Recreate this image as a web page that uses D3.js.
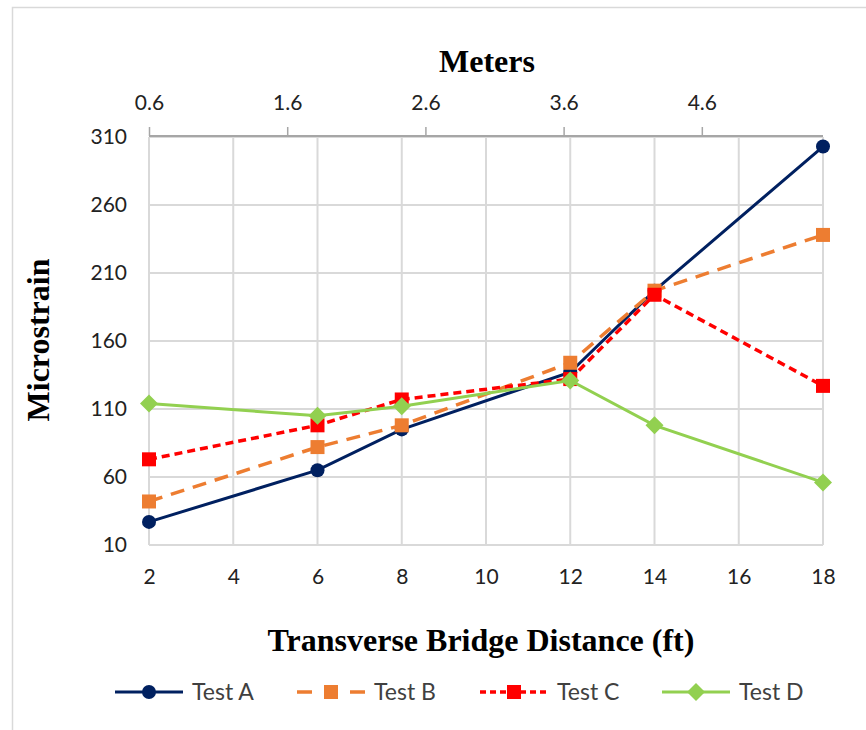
<!DOCTYPE html>
<html>
<head>
<meta charset="utf-8">
<script src="https://cdn.jsdelivr.net/npm/d3@7"></script>
<style>
  html, body { margin: 0; padding: 0; background: #fff; }
  svg { display: block; }
</style>
</head>
<body>
<svg id="chart" width="866" height="730"></svg>
<script>
// Transverse positions (ft) and measured microstrain for each test
const positions = [2, 6, 8, 12, 14, 18];
const testA = [27, 65, 95, 137, 197, 303];
const testB = [42, 82, 98, 144, 197, 238];
const testC = [73, 98, 117, 132, 194, 127];
const testD = [114, 105, 112, 131, 98, 56];

const seriesNames = ["Test A", "Test B", "Test C", "Test D"];
const xTicks = [2, 4, 6, 8, 10, 12, 14, 16, 18];
const yTicks = [10, 60, 110, 160, 210, 260, 310];
const meterTicks = [0.6, 1.6, 2.6, 3.6, 4.6];

const FT_PER_M = 3.28084;
const svg = d3.select("#chart");
const W = 866, H = 730;
const m = { left: 149, right: 823, top: 137, bottom: 545 };

// outer frame
svg.append("rect")
  .attr("x", 12.5).attr("y", 7.5)
  .attr("width", W + 10).attr("height", H + 10)
  .attr("fill", "#fff").attr("stroke", "#d9d9d9").attr("stroke-width", 1.5);

const x = d3.scaleLinear().domain([2, 18]).range([m.left, m.right]);
const y = d3.scaleLinear().domain([10, 310]).range([m.bottom, m.top]);
const xm = d3.scaleLinear().domain([0.6, 0.6 + 16 / FT_PER_M]).range([m.left, m.right]);

const tickFont = "Lato, 'Open Sans', 'Liberation Sans', sans-serif";
const serif = "'Liberation Serif', 'DejaVu Serif', serif";

// gridlines
const grid = svg.append("g");
grid.selectAll("line.v").data(xTicks).join("line")
  .attr("x1", d => x(d)).attr("x2", d => x(d))
  .attr("y1", m.top).attr("y2", m.bottom)
  .attr("stroke", "#d9d9d9").attr("stroke-width", 2);
grid.selectAll("line.h").data(yTicks).join("line")
  .attr("x1", m.left).attr("x2", m.right)
  .attr("y1", d => y(d)).attr("y2", d => y(d))
  .attr("stroke", "#d9d9d9").attr("stroke-width", 2);

// bottom axis (labels only)
const xAxis = svg.append("g")
  .attr("transform", `translate(0,${m.bottom})`)
  .call(d3.axisBottom(x).tickValues(xTicks).tickSize(0).tickPadding(24));
xAxis.select(".domain").remove();
xAxis.selectAll("text").attr("font-family", tickFont).attr("font-size", 21).attr("fill", "#222");

// left axis (labels only)
const yAxis = svg.append("g")
  .attr("transform", `translate(${m.left},0)`)
  .call(d3.axisLeft(y).tickValues(yTicks).tickSize(0).tickPadding(22));
yAxis.select(".domain").remove();
yAxis.selectAll("text").attr("font-family", tickFont).attr("font-size", 21).attr("fill", "#222");

// top axis in meters
const topAxis = svg.append("g")
  .attr("transform", `translate(0,${m.top - 1})`)
  .call(d3.axisTop(xm).tickValues(meterTicks).tickFormat(d3.format(".1f")).tickSize(9).tickSizeOuter(0).tickPadding(17));
topAxis.select(".domain").attr("stroke", "#a6a6a6").attr("stroke-width", 2)
  .attr("d", `M${m.left},0H${m.right}`);
topAxis.selectAll(".tick line").attr("stroke", "#a6a6a6").attr("stroke-width", 1.5);
topAxis.selectAll("text").attr("font-family", tickFont).attr("font-size", 21).attr("fill", "#222");

// titles
svg.append("text").attr("x", 487).attr("y", 72).attr("text-anchor", "middle")
  .attr("font-family", serif).attr("font-weight", "bold").attr("font-size", 32)
  .text("Meters");
svg.append("text").attr("x", 481).attr("y", 651).attr("text-anchor", "middle")
  .attr("font-family", serif).attr("font-weight", "bold").attr("font-size", 32)
  .text("Transverse Bridge Distance (ft)");
svg.append("text")
  .attr("transform", `translate(49,${(m.top + m.bottom) / 2 - 1}) rotate(-90)`)
  .attr("text-anchor", "middle")
  .attr("font-family", serif).attr("font-weight", "bold").attr("font-size", 32)
  .text("Microstrain");

// series styling
const styles = [
  { values: testA, color: "#002060", dash: null, legendDash: null, width: 3, marker: "circle" },
  { values: testB, color: "#ed7d31", dash: "14,9", legendDash: "15,38,15", width: 3.5, marker: "square" },
  { values: testC, color: "#ff0000", dash: "8,5", legendDash: "6,4", width: 3.5, marker: "square" },
  { values: testD, color: "#92d050", dash: null, legendDash: null, width: 3, marker: "diamond" }
];

function drawMarker(g, kind, cx, cy, color, scale = 1) {
  if (kind === "circle") {
    g.append("circle").attr("cx", cx).attr("cy", cy).attr("r", 7 * scale).attr("fill", color);
  } else if (kind === "square") {
    const s = 14 * scale;
    g.append("rect").attr("x", cx - s / 2).attr("y", cy - s / 2).attr("width", s).attr("height", s).attr("fill", color);
  } else {
    const r = 9 * scale;
    g.append("path").attr("d", `M${cx},${cy - r}L${cx + r},${cy}L${cx},${cy + r}L${cx - r},${cy}Z`).attr("fill", color);
  }
}

const line = d3.line().x(d => x(d[0])).y(d => y(d[1]));
styles.forEach(s => {
  const pts = positions.map((p, i) => [p, s.values[i]]);
  const g = svg.append("g");
  g.append("path").attr("d", line(pts)).attr("fill", "none")
    .attr("stroke", s.color).attr("stroke-width", s.width)
    .attr("stroke-dasharray", s.dash);
  pts.forEach(p => drawMarker(g, s.marker, x(p[0]), y(p[1]), s.color));
});

// legend
const legendX = [115, 297, 480, 662];
const legendY = 692;
styles.forEach((s, i) => {
  const g = svg.append("g");
  const x0 = legendX[i];
  g.append("line").attr("x1", x0).attr("x2", x0 + 68).attr("y1", legendY).attr("y2", legendY)
    .attr("stroke", s.color).attr("stroke-width", s.width)
    .attr("stroke-dasharray", s.legendDash);
  drawMarker(g, s.marker, x0 + 34, legendY, s.color);
  g.append("text").attr("x", x0 + 77).attr("y", legendY + 8)
    .attr("font-family", tickFont).attr("font-size", 23).attr("fill", "#404040")
    .text(seriesNames[i]);
});
</script>
</body>
</html>
